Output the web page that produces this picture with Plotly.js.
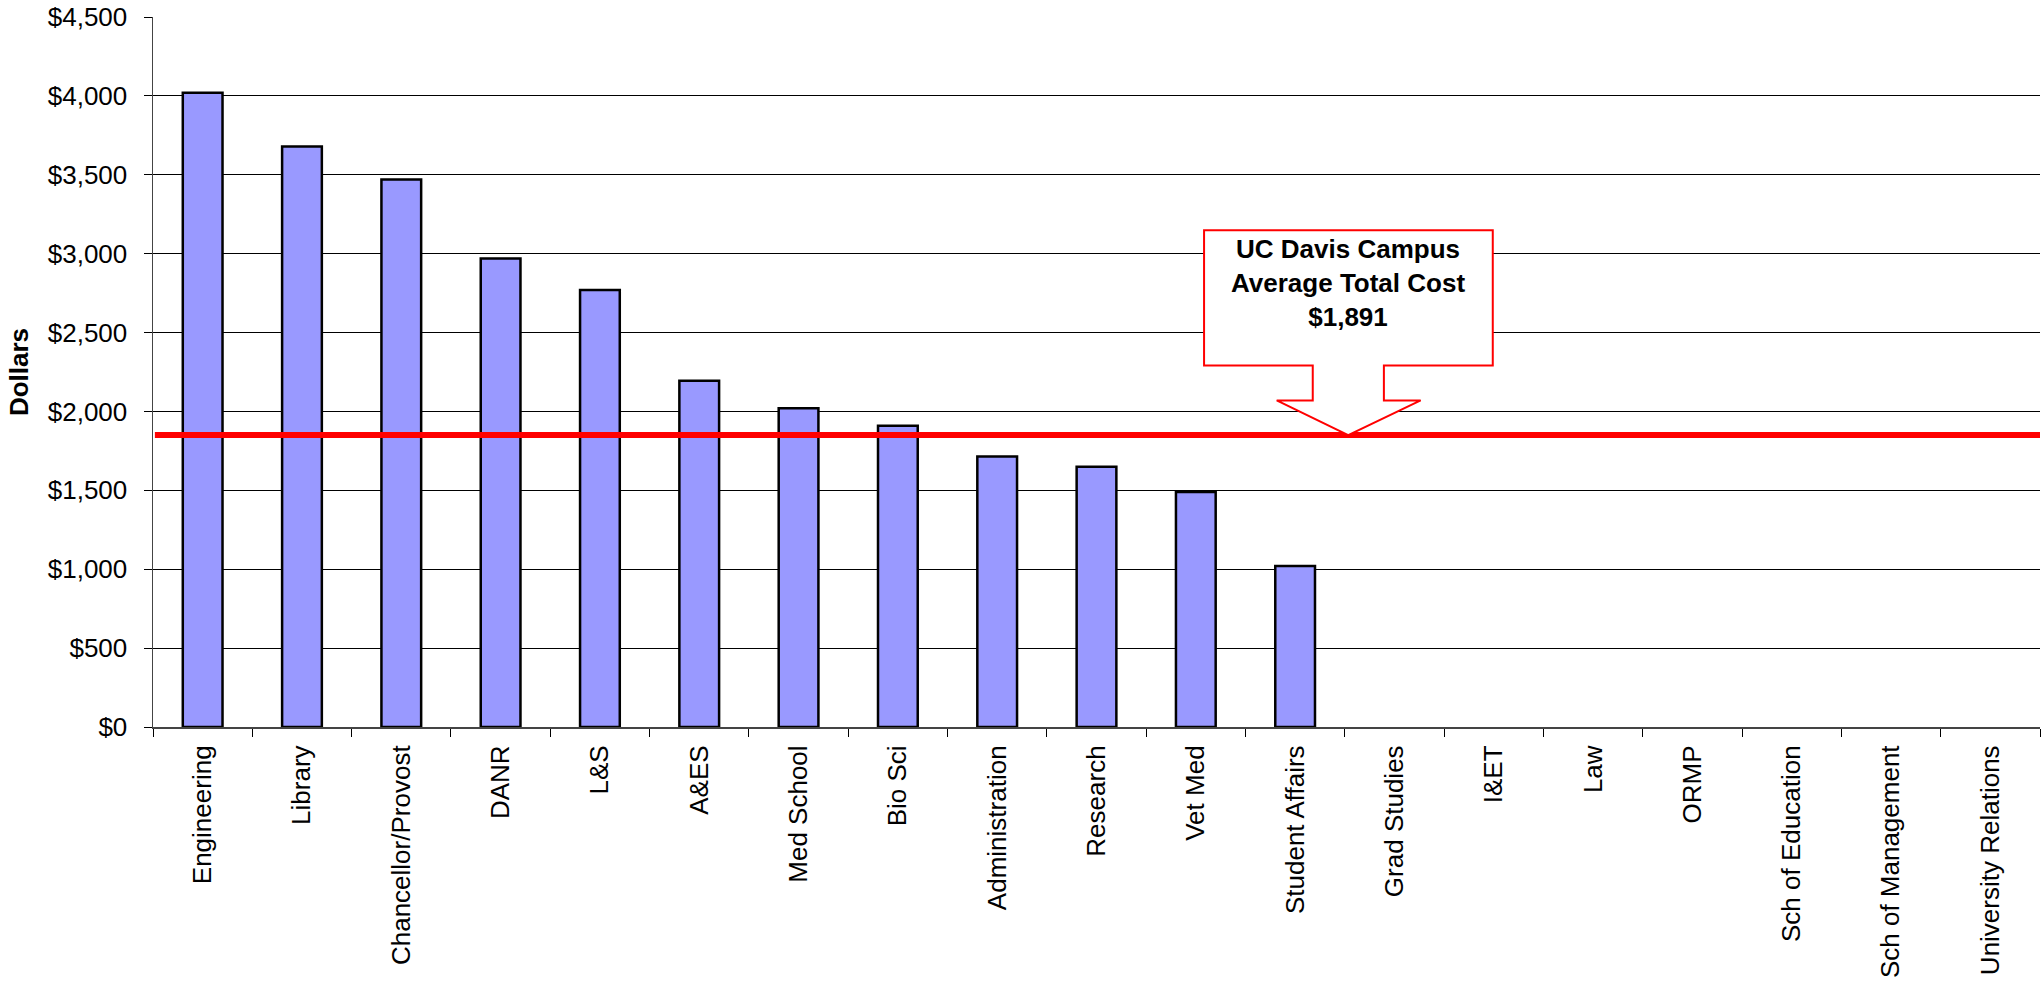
<!DOCTYPE html>
<html>
<head>
<meta charset="utf-8">
<script src="https://cdn.plot.ly/plotly-3.0.1.min.js"></script>
<style>
  html, body { margin: 0; padding: 0; background: #fff; }
  #chart { width: 2041px; height: 986px; }
</style>
</head>
<body>
<div id="chart"></div>
<script>
// ---- data ----
const categories = [
  "Engineering", "Library", "Chancellor/Provost", "DANR", "L&S", "A&ES",
  "Med School", "Bio Sci", "Administration", "Research", "Vet Med",
  "Student Affairs", "Grad Studies", "I&ET", "Law", "ORMP",
  "Sch of Education", "Sch of Management", "University Relations"
];
const costs = [4020, 3680, 3470, 2970, 2770, 2195, 2020, 1910, 1715, 1650, 1490, 1020,
               0, 0, 0, 0, 0, 0, 0];
const averageLineValue = 1850;           // where the red average line is drawn
const calloutLines = ["UC Davis Campus", "Average Total Cost", "$1,891"];
const yTickValues = [0, 500, 1000, 1500, 2000, 2500, 3000, 3500, 4000, 4500];
const yTickLabels = ["$0", "$500", "$1,000", "$1,500", "$2,000", "$2,500",
                     "$3,000", "$3,500", "$4,000", "$4,500"];

// ---- callout geometry (x in paper fraction, y in data units) ----
const cx = 0.6334;
const box = { x0: 0.5570, x1: 0.7100, yTop: 3149, yBot: 2291 };
const notch = { xi0: 0.6146, xi1: 0.6523, xo0: 0.5955, xo1: 0.6718, y: 2070 };
const calloutPath =
  "M " + box.x0 + "," + box.yTop +
  " L " + box.x1 + "," + box.yTop +
  " L " + box.x1 + "," + box.yBot +
  " L " + notch.xi1 + "," + box.yBot +
  " L " + notch.xi1 + "," + notch.y +
  " L " + notch.xo1 + "," + notch.y +
  " L " + cx + "," + averageLineValue +
  " L " + notch.xo0 + "," + notch.y +
  " L " + notch.xi0 + "," + notch.y +
  " L " + notch.xi0 + "," + box.yBot +
  " L " + box.x0 + "," + box.yBot + " Z";

const FONT = '"Liberation Sans", Arial, sans-serif';

const trace = {
  type: "bar",
  x: categories,
  y: costs,
  width: 0.4,
  marker: {
    color: "#9999FF",
    line: { color: "#000000", width: costs.map(v => (v > 0 ? 2.5 : 0)) }
  },
  hoverinfo: "x+y"
};

const layout = {
  width: 2041,
  height: 986,
  margin: { l: 153, r: 1, t: 17, b: 259 },
  paper_bgcolor: "#ffffff",
  plot_bgcolor: "#ffffff",
  font: { family: FONT, size: 26, color: "#000" },
  showlegend: false,
  bargap: 0.6,
  xaxis: {
    type: "category",
    tickangle: -90,
    tickson: "boundaries",
    ticks: "outside",
    ticklen: 8,
    tickcolor: "#000",
    tickwidth: 1,
    ticklabelstandoff: 6,
    showline: true,
    linecolor: "#444",
    linewidth: 2,
    showgrid: false,
    zeroline: false,
    tickfont: { family: FONT, size: 26, color: "#000" },
    range: [-0.5, 18.5],
    fixedrange: true
  },
  yaxis: {
    range: [0, 4500],
    tickvals: yTickValues,
    ticktext: yTickLabels,
    ticks: "outside",
    ticklen: 8,
    tickcolor: "#000",
    tickwidth: 1,
    ticklabelstandoff: 11,
    showline: true,
    linecolor: "#444",
    linewidth: 1.5,
    showgrid: true,
    gridcolor: "#000",
    gridwidth: 1,
    zeroline: false,
    tickfont: { family: FONT, size: 26, color: "#000" },
    title: { text: "<b>Dollars</b>", font: { family: FONT, size: 26, color: "#000" }, standoff: 11 },
    fixedrange: true
  },
  shapes: [
    {
      type: "line", xref: "paper", yref: "y",
      x0: 0.001, x1: 1, y0: averageLineValue, y1: averageLineValue,
      line: { color: "#FF0000", width: 6 }, layer: "above"
    },
    {
      type: "path", xref: "paper", yref: "y",
      path: calloutPath,
      fillcolor: "#ffffff",
      line: { color: "#FF0000", width: 2 }, layer: "above"
    }
  ],
  annotations: [
    {
      xref: "paper", yref: "y", x: cx, y: 2817,
      text: "<b>" + calloutLines.join("<br>") + "</b>",
      showarrow: false, align: "center",
      xanchor: "center", yanchor: "middle",
      font: { family: FONT, size: 26, color: "#000" }
    }
  ]
};

Plotly.newPlot("chart", [trace], layout, { displayModeBar: false, staticPlot: true });
</script>
</body>
</html>
